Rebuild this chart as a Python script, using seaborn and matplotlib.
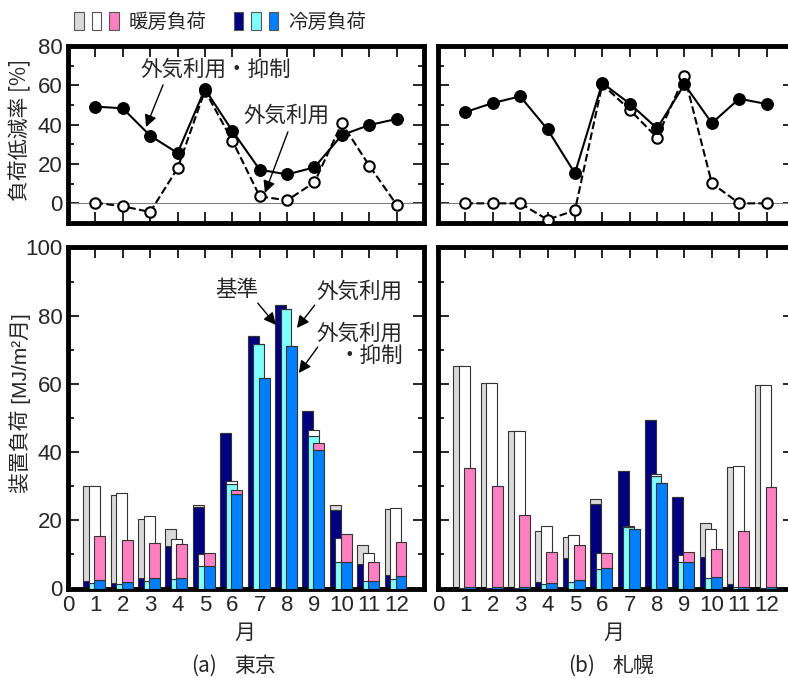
import numpy as np
import matplotlib
matplotlib.use('Agg')
import matplotlib.pyplot as plt
from matplotlib.patches import Patch
from matplotlib.legend_handler import HandlerTuple
import seaborn as sns

# 月
months = np.arange(1, 13)
xtick_labels = [str(i) for i in range(13)]

# 負荷低減率 [%]  (外気利用・抑制 / 外気利用)
tokyo_rate_ctrl = [49.2, 48.3, 34.4, 25.6, 58.1, 36.9, 17.1, 14.7, 18.3, 34.7, 39.8, 42.9]
tokyo_rate_oa = [0.3, -1.5, -4.4, 17.8, 57.3, 31.9, 3.6, 1.5, 10.7, 40.7, 19.2, -0.7]
sapporo_rate_ctrl = [46.4, 51.0, 54.4, 37.6, 15.3, 61.2, 50.7, 38.1, 60.5, 40.8, 53.2, 50.5]
sapporo_rate_oa = [0.0, 0.0, 0.0, -8.3, -3.6, 60.5, 47.6, 33.4, 64.7, 10.2, 0.0, 0.0]

# 装置負荷 [MJ/m2月]  東京
tokyo_base_cool = [2.1, 1.7, 3.2, 12.6, 23.8, 45.7, 74.1, 83.2, 52.0, 22.9, 7.2, 4.0]
tokyo_base_heat = [27.9, 25.8, 17.3, 4.9, 0.8, 0.0, 0.0, 0.0, 0.0, 1.7, 5.6, 19.4]
tokyo_oa_cool = [1.7, 1.4, 2.1, 2.8, 6.5, 30.7, 71.6, 82.0, 44.7, 7.9, 2.1, 2.8]
tokyo_oa_heat = [28.3, 26.6, 19.3, 11.7, 3.6, 0.8, 0.0, 0.0, 1.9, 6.9, 8.3, 20.8]
tokyo_ctrl_cool = [2.5, 2.0, 3.0, 3.0, 6.5, 27.8, 61.7, 71.1, 40.6, 7.9, 2.3, 3.7]
tokyo_ctrl_heat = [12.8, 12.3, 10.3, 10.0, 4.0, 1.2, 0.0, 0.0, 2.2, 8.1, 5.4, 9.8]

# 装置負荷 [MJ/m2月]  札幌
sapporo_base_cool = [0.3, 0.3, 0.3, 2.0, 8.9, 24.9, 34.5, 49.5, 26.8, 9.3, 1.3, 0.3]
sapporo_base_heat = [65.0, 60.1, 45.9, 14.8, 6.3, 1.2, 0.0, 0.0, 0.0, 9.9, 34.4, 59.4]
sapporo_oa_cool = [0.2, 0.2, 0.2, 1.2, 2.0, 5.8, 18.1, 33.0, 7.7, 3.2, 0.3, 0.2]
sapporo_oa_heat = [65.1, 60.2, 46.0, 17.0, 13.6, 4.5, 0.3, 0.6, 2.1, 14.3, 35.5, 59.5]
sapporo_ctrl_cool = [0.3, 0.3, 0.3, 1.7, 2.5, 6.0, 17.4, 30.9, 7.7, 3.3, 0.5, 0.3]
sapporo_ctrl_heat = [35.0, 29.8, 21.2, 8.9, 10.2, 4.4, 0.0, 0.0, 3.0, 8.3, 16.4, 29.5]

# 色
heat_colors = ['#d9d9d9', '#ffffff', '#ff80c0']
cool_colors = ['#000080', '#80ffff', '#0080ff']

sns.set_style('ticks')
plt.rcParams['font.family'] = ['Liberation Sans', 'Noto Sans CJK JP']
plt.rcParams['font.size'] = 15
JP = ['Noto Sans CJK JP', 'DejaVu Sans']
MIX = ['Liberation Sans', 'Noto Sans CJK JP']

W, H = 788, 678
fig = plt.figure(figsize=(W / 100, H / 100), dpi=100)


def px_axes(left, top, right, bottom):
    return fig.add_axes([left / W, 1 - bottom / H, (right - left) / W, (bottom - top) / H])


def style_axes(ax, ylim, major, minor, ylabels, xlabels):
    ax.set_xlim(0, 13)
    ax.set_ylim(*ylim)
    ax.set_xticks(range(13))
    ax.set_yticks(major)
    ax.set_yticks(minor, minor=True)
    ax.tick_params(which='both', direction='in', top=True, right=True,
                   width=1.2, color='black', labelsize=16)
    ax.tick_params(which='major', length=8)
    ax.tick_params(which='minor', length=4)
    ax.tick_params(axis='x', labelbottom=xlabels, pad=5)
    ax.tick_params(axis='y', labelleft=ylabels, pad=4)
    if xlabels:
        ax.set_xticklabels(xtick_labels)
    for s in ax.spines.values():
        s.set_visible(True)
        s.set_linewidth(3.5)
        s.set_color('black')
    ax.set_xlabel('')
    ax.set_ylabel('')


def rate_panel(ax, ctrl, oa, ylabels):
    ax.axhline(0, color='gray', lw=0.8, zorder=1)
    sns.lineplot(x=months, y=oa, ax=ax, color='black', lw=1.5, linestyle='--',
                 marker='o', markersize=7.5, markerfacecolor='white',
                 markeredgecolor='black', markeredgewidth=1.5, zorder=3)
    sns.lineplot(x=months, y=ctrl, ax=ax, color='black', lw=1.5,
                 marker='o', markersize=8.5, markerfacecolor='black',
                 markeredgecolor='black', zorder=4)
    style_axes(ax, (-10, 80), [0, 20, 40, 60, 80], [10, 30, 50, 70], ylabels, False)


def load_panel(ax, cools, heats, ylabels):
    offsets = [-0.24, -0.04, 0.16]
    for i, (c, h) in enumerate(zip(cools, heats)):
        ax.bar(months + offsets[i], c, width=0.4, color=cool_colors[i],
               edgecolor='#333333', linewidth=0.8, zorder=2 + i)
        ax.bar(months + offsets[i], h, bottom=c, width=0.4, color=heat_colors[i],
               edgecolor='#333333', linewidth=0.8, zorder=2 + i)
    style_axes(ax, (0, 100), [0, 20, 40, 60, 80, 100], [10, 30, 50, 70, 90], ylabels, True)


ax_tl = px_axes(68, 46, 424, 223)
ax_bl = px_axes(68, 247.5, 424, 588.5)
ax_tr = px_axes(438, 46, 794, 223)
ax_br = px_axes(438, 247.5, 794, 588.5)

rate_panel(ax_tl, tokyo_rate_ctrl, tokyo_rate_oa, True)
rate_panel(ax_tr, sapporo_rate_ctrl, sapporo_rate_oa, False)
load_panel(ax_bl, [tokyo_base_cool, tokyo_oa_cool, tokyo_ctrl_cool],
           [tokyo_base_heat, tokyo_oa_heat, tokyo_ctrl_heat], True)
load_panel(ax_br, [sapporo_base_cool, sapporo_oa_cool, sapporo_ctrl_cool],
           [sapporo_base_heat, sapporo_oa_heat, sapporo_ctrl_heat], False)

arrow = dict(arrowstyle='-|>', color='black', lw=1.0, mutation_scale=18, shrinkA=0, shrinkB=0)
ann = dict(fontsize=15.5, family=JP)

# 上段の注記
ax_tl.text(5.4, 67.8, '外気利用・抑制', ha='center', va='center', **ann)
ax_tl.annotate('', xy=(2.85, 38.8), xytext=(3.47, 60.2), arrowprops=arrow)
ax_tl.text(7.96, 44.4, '外気利用', ha='center', va='center', **ann)
ax_tl.annotate('', xy=(7.19, 5.3), xytext=(8.03, 36.3), arrowprops=arrow)

# 下段の注記
ax_bl.text(6.17, 87.5, '基準', ha='center', va='center', **ann)
ax_bl.annotate('', xy=(7.59, 77.3), xytext=(6.93, 83.7), arrowprops=arrow)
ax_bl.text(10.66, 87.0, '外気利用', ha='center', va='center', **ann)
ax_bl.annotate('', xy=(8.36, 76.4), xytext=(9.01, 83.1), arrowprops=arrow)
ax_bl.text(12.23, 71.4, '外気利用\n・抑制', ha='right', va='center', linespacing=1.05, **ann)
ax_bl.annotate('', xy=(8.43, 63.2), xytext=(9.12, 70.8), arrowprops=arrow)

# 軸ラベル
lab = dict(fontsize=15, family=JP)
fig.text(20 / W, 1 - 130 / H, '負荷低減率 [%]', rotation=90, ha='center', va='center', **lab)
fig.text(20 / W, 1 - 403 / H, '装置負荷 [MJ/m²月]', rotation=90, ha='center', va='center',
         fontsize=15, family=MIX)
fig.text(245 / W, 1 - 633 / H, '月', ha='center', va='center', **lab)
fig.text(614 / W, 1 - 633 / H, '月', ha='center', va='center', **lab)
fig.text(204 / W, 1 - 666 / H, '(a)', ha='center', va='center', **lab)
fig.text(255 / W, 1 - 666 / H, '東京', ha='center', va='center', **lab)
fig.text(582 / W, 1 - 666 / H, '(b)', ha='center', va='center', **lab)
fig.text(633 / W, 1 - 666 / H, '札幌', ha='center', va='center', **lab)

# 凡例
heat_handles = tuple(Patch(facecolor=c, edgecolor='#555555', lw=0.8) for c in heat_colors)
cool_handles = tuple(Patch(facecolor=c, edgecolor='#555555', lw=0.8) for c in cool_colors)
fig.legend([heat_handles, cool_handles], ['暖房負荷', '冷房負荷'],
           handler_map={tuple: HandlerTuple(ndivide=None, pad=0.4)},
           loc='center left', bbox_to_anchor=(74 / W, 1 - 22 / H), ncol=2,
           frameon=False, borderpad=0, borderaxespad=0, handlelength=2.3,
           handleheight=1.05, handletextpad=0.5, columnspacing=1.4,
           prop={'family': JP, 'size': 14})

fig.savefig('out.png', dpi=100)
